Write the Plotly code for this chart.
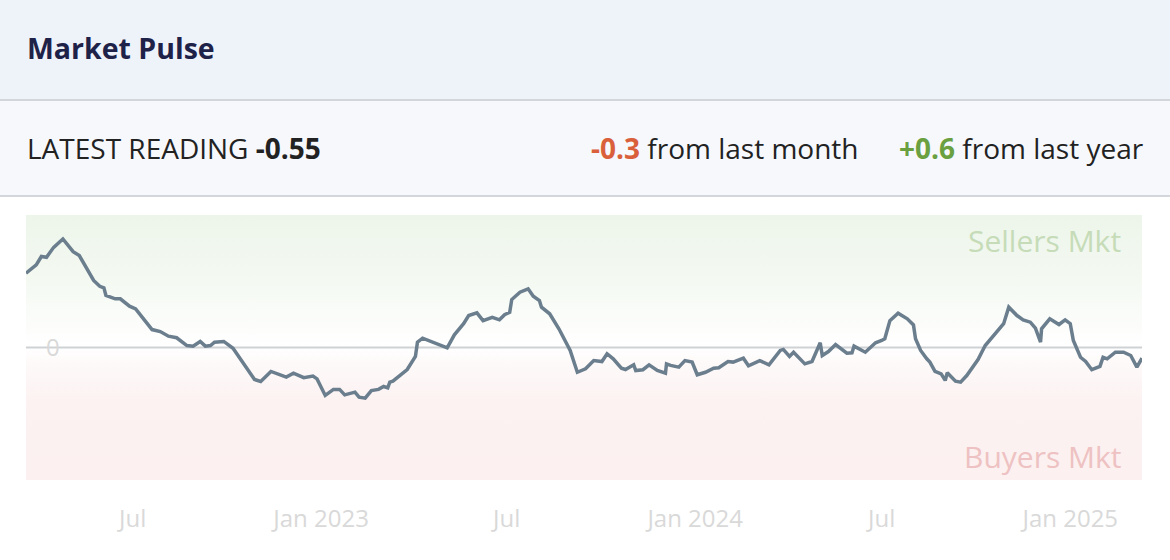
import plotly.graph_objects as go
import pandas as pd

# Market pulse readings (days since first reading)
start_date = "2022-03-19"
day_offsets = [
    0, 10, 15, 20, 27, 36, 46, 52, 66, 72, 76, 78, 87, 92, 101, 107, 123, 131, 139, 147,
    157, 163, 170, 175, 180, 184, 193, 202, 223, 229, 239, 246, 254, 261, 271,
    280, 284, 292, 300, 306, 311, 321, 325, 331, 337, 344, 349, 353, 355, 358, 365, 372,
    380, 382, 387, 398, 411, 418, 427, 432, 440, 446, 455, 462, 467, 472, 474, 482, 490,
    495, 501, 503, 511, 520, 531, 538, 546,
    554, 562, 567, 573, 581, 585, 593, 595, 602, 608, 616, 624, 625, 629, 637, 643, 650,
    655, 663, 671, 676, 685, 690, 700, 705, 716, 725, 736, 739, 745, 749, 760, 767, 775,
    777, 783, 790, 801, 806, 808, 819,
    829, 835, 838, 843, 851, 860, 866, 868, 873, 879, 882, 887, 893, 897, 899, 907, 912,
    918, 925, 929, 936, 944, 954, 959, 967, 973, 980, 985, 990, 991, 999, 1008, 1014,
    1019, 1022, 1029, 1034, 1040, 1048, 1051, 1055, 1063, 1071, 1078, 1084, 1089,
]
pulse_values = [
    3.81, 4.24, 4.67, 4.63, 5.14, 5.57, 4.92, 4.72, 3.44, 3.14, 3.06, 2.67, 2.50, 2.50,
    2.12, 1.98, 0.92, 0.82, 0.58, 0.50, 0.10, 0.07, 0.31, 0.07, 0.10, 0.27, 0.31, -0.04,
    -1.64, -1.74, -1.23, -1.35, -1.52, -1.32, -1.55,
    -1.47, -1.61, -2.46, -2.15, -2.15, -2.43, -2.29, -2.55, -2.60, -2.21, -2.15, -2.00,
    -2.07, -1.78, -1.73, -1.44, -1.13, -0.46, 0.27, 0.48, 0.24, -0.02, 0.65, 1.22, 1.64,
    1.78, 1.38, 1.55, 1.42, 1.68, 1.81, 2.46, 2.84, 3.01, 2.63, 2.41, 2.07, 1.73, 0.96,
    -0.15, -1.27, -1.09,
    -0.67, -0.72, -0.32, -0.58, -1.06, -1.13, -0.89, -1.18, -1.14, -0.89, -1.18, -1.32,
    -0.84, -0.92, -1.01, -0.67, -0.75, -1.40, -1.27, -1.06, -1.04, -0.72, -0.75, -0.55,
    -0.94, -0.67, -0.89, -0.15, -0.10, -0.46, -0.24, -0.84, -0.72, 0.24, -0.41, -0.21,
    0.15, -0.29, -0.27, 0.07, -0.24,
    0.24, 0.36, 0.45, 1.38, 1.76, 1.47, 1.16, 0.45, -0.15, -0.58, -0.75, -1.22, -1.35,
    -1.69, -1.30, -1.73, -1.78, -1.44, -0.89, -0.62, 0.10, 0.62, 1.22, 2.07, 1.64, 1.42,
    1.30, 0.99, 0.27, 0.96, 1.47, 1.18, 1.42, 1.22, 0.36, -0.50, -0.72, -1.14, -0.97,
    -0.50, -0.58, -0.24, -0.24, -0.41, -1.01, -0.55,
]

tick_dates = ["2022-07-01", "2023-01-01", "2023-07-01", "2024-01-01", "2024-07-01", "2025-01-01"]
tick_labels = ["Jul", "Jan 2023", "Jul", "Jan 2024", "Jul", "Jan 2025"]

latest_reading = -0.55
change_month = -0.3
change_year = 0.6
y_limit = 6.8

FONT = "Open Sans"
LINE_COLOR = "#6b7e8e"
TICK_COLOR = "#d9d9d9"

dates = pd.Timestamp(start_date) + pd.to_timedelta(day_offsets, unit="D")

# pixel layout of the card
W, H = 1170, 560
PLOT_L, PLOT_R, PLOT_T, PLOT_B = 26, 1142, 215, 480


def px(x):
    return (x - PLOT_L) / (PLOT_R - PLOT_L)


def py(y):
    return (PLOT_B - y) / (PLOT_B - PLOT_T)


fig = go.Figure()

# Sellers / buyers background gradient
fig.add_trace(
    go.Scatter(
        x=[dates[0], dates[-1], dates[-1], dates[0], dates[0]],
        y=[-y_limit, -y_limit, y_limit, y_limit, -y_limit],
        mode="lines",
        line=dict(width=0),
        fill="toself",
        fillgradient=dict(
            type="vertical",
            colorscale=[
                [0.0, "#fcf0f0"],
                [0.3, "#fcf2f2"],
                [0.45, "#fefafa"],
                [0.5, "#ffffff"],
                [0.58, "#fcfdfb"],
                [0.75, "#f4f9f2"],
                [1.0, "#edf5ea"],
            ],
        ),
        hoverinfo="skip",
        showlegend=False,
    )
)

# zero reference line
fig.add_trace(
    go.Scatter(
        x=[dates[0], dates[-1]],
        y=[0, 0],
        mode="lines",
        line=dict(color="#cfd2d5", width=2),
        hoverinfo="skip",
        showlegend=False,
    )
)

fig.add_trace(
    go.Scatter(
        x=dates,
        y=pulse_values,
        mode="lines",
        line=dict(color=LINE_COLOR, width=3.5),
        hovertemplate="%{x|%b %d, %Y}: %{y:.2f}<extra></extra>",
        showlegend=False,
    )
)

# header bands and dividers
shapes = [
    dict(type="rect", xref="paper", yref="paper", x0=px(0), x1=px(W), y0=py(100), y1=py(0),
         fillcolor="#eef3fa", line=dict(width=0), layer="below"),
    dict(type="rect", xref="paper", yref="paper", x0=px(0), x1=px(W), y0=py(196), y1=py(100),
         fillcolor="#f6f8fc", line=dict(width=0), layer="below"),
    dict(type="line", xref="paper", yref="paper", x0=px(0), x1=px(W), y0=py(100), y1=py(100),
         line=dict(color="#d3d6da", width=2)),
    dict(type="line", xref="paper", yref="paper", x0=px(0), x1=px(W), y0=py(196), y1=py(196),
         line=dict(color="#d3d6da", width=2)),
]

annotations = [
    dict(text="<b>Market Pulse</b>", x=px(25), y=py(48), xanchor="left", yanchor="middle",
         font=dict(family=FONT, size=28.5, color="#1f2248")),
    dict(text=f"LATEST READING <b>{latest_reading:.2f}</b>", x=px(25), y=py(148),
         xanchor="left", yanchor="middle", font=dict(family=FONT, size=28, color="#222222")),
    dict(text=f"<b><span style='color:#d9603a'>{change_month:+.1f}</span></b> from last month",
         x=px(861), y=py(148), xanchor="right", yanchor="middle",
         font=dict(family=FONT, size=28, color="#222222")),
    dict(text=f"<b><span style='color:#6aa040'>{change_year:+.1f}</span></b> from last year",
         x=px(1146), y=py(148), xanchor="right", yanchor="middle",
         font=dict(family=FONT, size=28, color="#222222")),
    dict(text="Sellers Mkt", x=px(1123), y=py(240), xanchor="right", yanchor="middle",
         font=dict(family=FONT, size=30, color="#c6dcb8")),
    dict(text="Buyers Mkt", x=px(1123), y=py(456), xanchor="right", yanchor="middle",
         font=dict(family=FONT, size=30, color="#eec2c2")),
]
for a in annotations:
    a.update(xref="paper", yref="paper", showarrow=False)

fig.update_layout(
    width=W,
    height=H,
    margin=dict(l=PLOT_L, r=W - PLOT_R, t=PLOT_T, b=H - PLOT_B),
    paper_bgcolor="white",
    plot_bgcolor="white",
    font=dict(family=FONT),
    shapes=shapes,
    annotations=annotations,
    showlegend=False,
)

fig.update_xaxes(
    range=[dates[0], dates[-1]],
    tickvals=tick_dates,
    ticktext=tick_labels,
    tickfont=dict(family=FONT, size=24, color=TICK_COLOR),
    ticklabelstandoff=22,
    showgrid=False,
    zeroline=False,
    showline=False,
    ticks="",
)

fig.update_yaxes(
    range=[-y_limit, y_limit],
    tickvals=[0],
    ticktext=["0"],
    ticklabelposition="inside",
    ticklabelstandoff=17,
    tickfont=dict(family=FONT, size=24, color=TICK_COLOR),
    showgrid=False,
    zeroline=False,
    showline=False,
    ticks="",
)

# drop the default page margin so the card sits at the window's corner
fig.write_html(
    "out.html",
    config={"displayModeBar": False},
    post_script="document.body.style.margin = '0';",
)
